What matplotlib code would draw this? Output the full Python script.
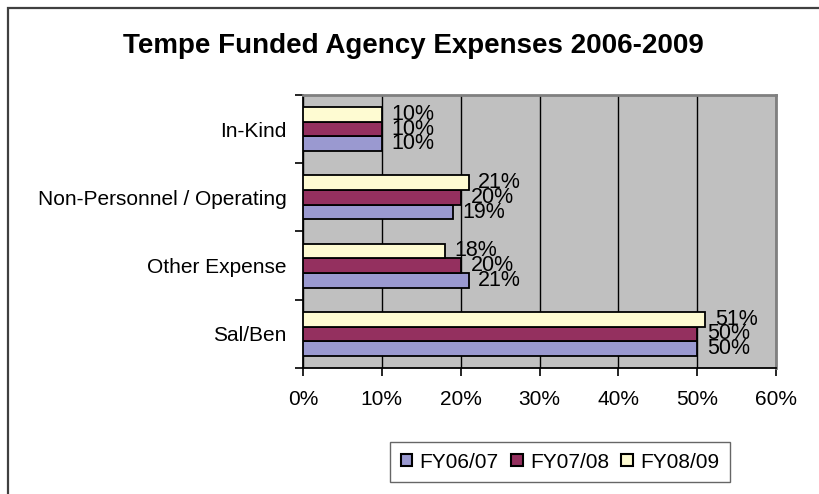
import matplotlib
matplotlib.use("Agg")
import matplotlib.pyplot as plt
from matplotlib.patches import Patch, Rectangle
from matplotlib.ticker import FuncFormatter, MultipleLocator
import numpy as np

plt.rcParams['font.family'] = ['Liberation Sans', 'DejaVu Sans']

categories = ["Sal/Ben", "Other Expense", "Non-Personnel / Operating", "In-Kind"]
series_names = ["FY06/07", "FY07/08", "FY08/09"]
fy0607 = [50, 21, 19, 10]
fy0708 = [50, 20, 20, 10]
fy0809 = [51, 18, 21, 10]
colors = ["#9A99D0", "#94305F", "#FEFBD2"]
title = "Tempe Funded Agency Expenses 2006-2009"

W, H = 819, 494
fig = plt.figure(figsize=(W / 100, H / 100), dpi=100)
fig.patch.set_facecolor("white")

# outer chart border (left/top visible, right/bottom run off the image)
fig.patches.append(Rectangle((8 / W, -0.2), 1.2, 1.2 - 8 / H, transform=fig.transFigure,
                             fill=False, edgecolor="#404040", lw=1.6, clip_on=False))

left, right, top, bottom = 303, 776, 95, 368
ax = fig.add_axes([left / W, 1 - bottom / H, (right - left) / W, (bottom - top) / H])
ax.set_facecolor("#C0C0C0")

y = np.arange(len(categories))
h = 0.215
data = [fy0607, fy0708, fy0809]
offsets = [-h, 0, h]
for vals, off, col, name in zip(data, offsets, colors, series_names):
    bars = ax.barh(y + off, vals, height=h, color=col, edgecolor="black", lw=1.3, label=name, zorder=3)
    ax.bar_label(bars, labels=[f"{v}%" for v in vals], padding=7, fontsize=15.5, color="black", zorder=4)

ax.set_xlim(0, 60)
ax.set_ylim(-0.5, len(categories) - 0.5)
ax.xaxis.set_major_locator(MultipleLocator(10))
ax.xaxis.set_major_formatter(FuncFormatter(lambda v, p: f"{v:.0f}%"))
ax.grid(axis="x", color="black", lw=1.0, zorder=1)
ax.set_axisbelow(True)

ax.set_yticks(y)
ax.set_yticklabels(categories)
ax.set_yticks(np.arange(-0.5, len(categories)), minor=True)
ax.tick_params(axis="y", which="major", length=0, pad=12, labelsize=15)
ax.tick_params(axis="y", which="minor", length=6, width=1.2, color="black", direction="out")
ax.tick_params(axis="x", length=6, width=1.2, color="black", direction="out", pad=10, labelsize=15)

for s in ["left", "bottom"]:
    ax.spines[s].set_color("black")
    ax.spines[s].set_linewidth(1.3)
for s in ["top", "right"]:
    ax.spines[s].set_color("#808080")
    ax.spines[s].set_linewidth(2.0)

fig.text(413 / W, 1 - 46 / H, title, ha="center", va="center", fontsize=20, fontweight="bold")

handles = [Patch(facecolor=c, edgecolor="black", lw=1.5) for c in colors]
leg = fig.legend(handles, series_names, loc="center", bbox_to_anchor=(560 / W, 1 - 462 / H),
                 ncol=3, fontsize=15, frameon=True, fancybox=False, handlelength=0.55, handleheight=0.55,
                 handletextpad=0.35, columnspacing=0.6, borderpad=0.5)
leg.get_frame().set_edgecolor("#404040")
leg.get_frame().set_linewidth(1.0)

fig.savefig("out.png", dpi=100)
